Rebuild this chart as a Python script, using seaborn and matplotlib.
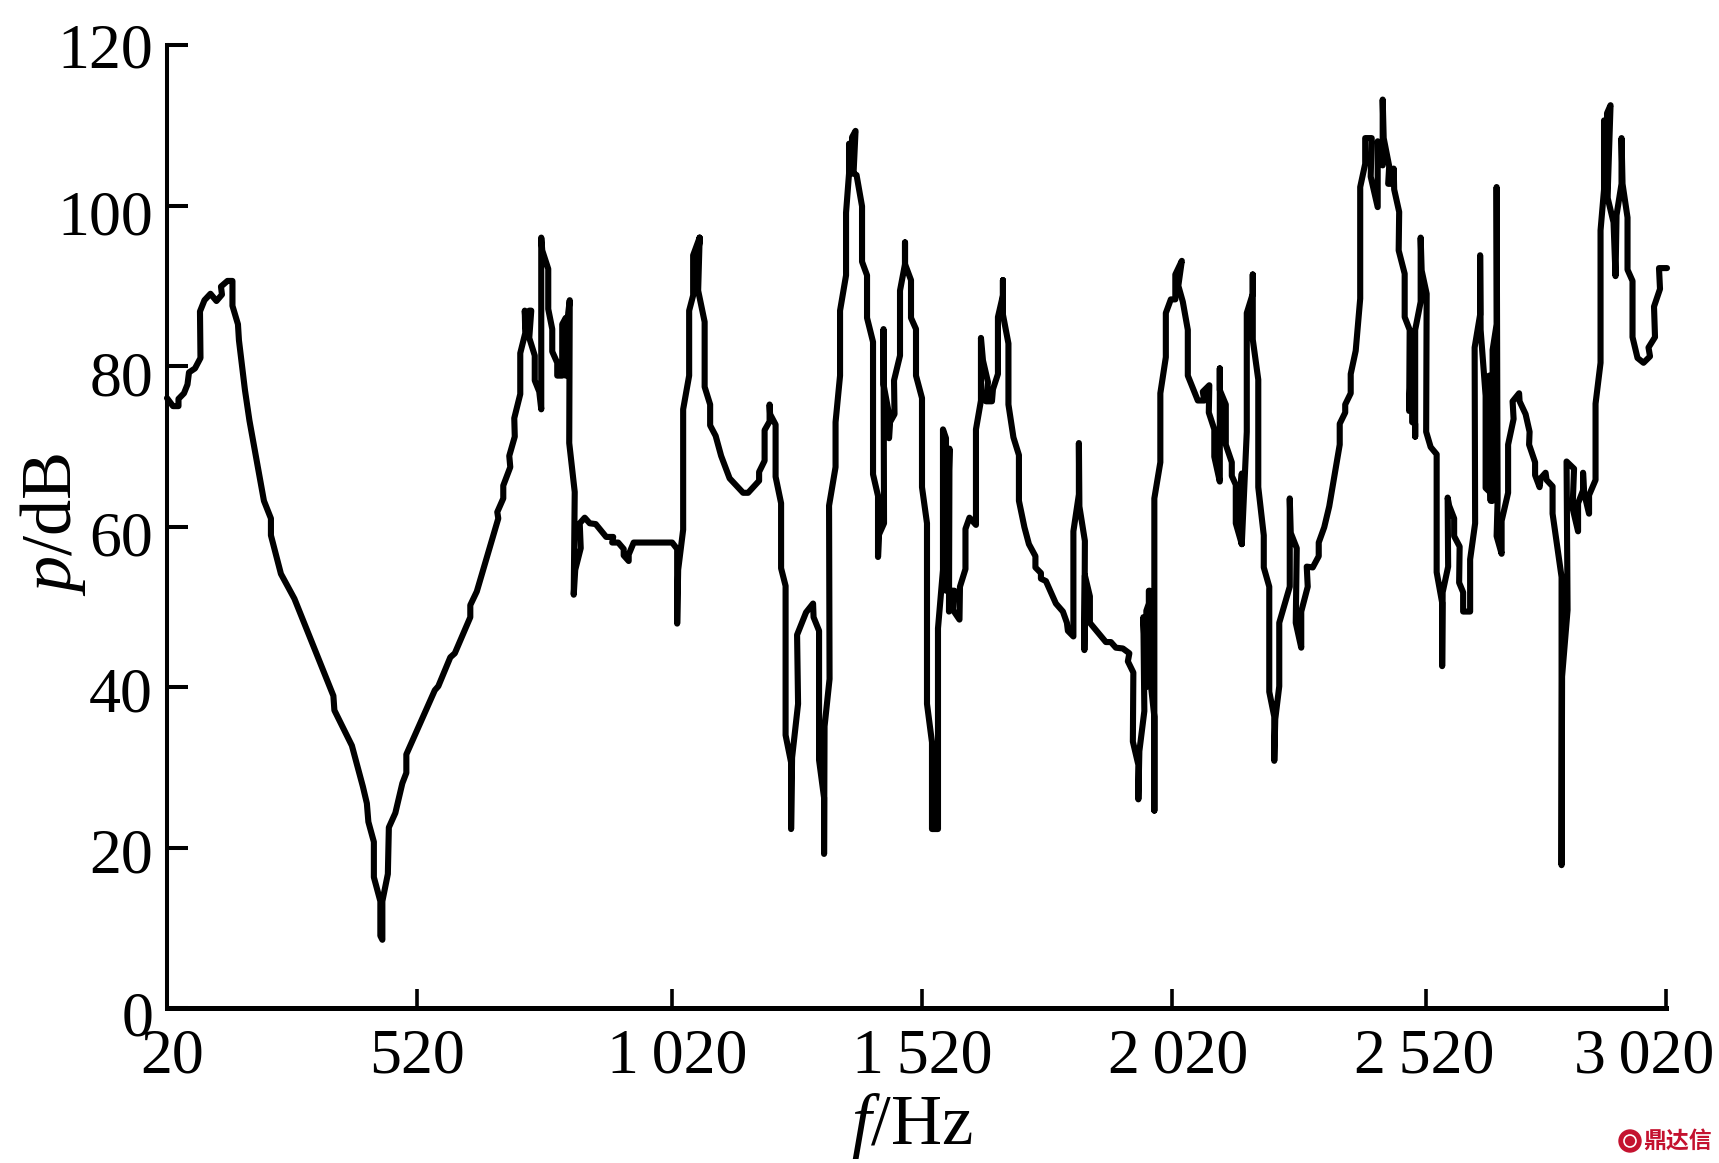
import numpy as np
import pandas as pd
import matplotlib
matplotlib.use("Agg")
import matplotlib.pyplot as plt
from matplotlib.transforms import ScaledTranslation
import seaborn as sns

freq_hz = [
 20,32,43,43,54,61,64,76,87,86,95,107,119,130,128,141,151,151,162,164,176,185,199,214,228,228,248,275,
 353,355,390,412,420,423,434,434,447,447,451,451,462,464,477,491,499,499,556,563,587,596,627,627,640,
 683,681,693,693,707,705,716,715,727,727,737,736,739,745,749,745,756,756,765,769,769,771,783,783,791,791,
 801,801,811,811,818,818,823,826,825,836,834,837,848,846,856,866,878,899,913,911,923,934,934,944,944,954,
 1031,1041,1041,1043,1053,1053,1065,1065,1073,1073,1086,1078,1086,1083,1096,1096,1107,1107,1118,1129,1146,1173,1183,
 1205,1205,1216,1216,1226,1226,1227,1238,1238,1249,1249,1258,1258,1269,1269,1271,1283,1281,1299,1313,1314,1325,
 1325,1335,1335,1336,1346,1345,1358,1358,1367,1367,1379,1379,1385,1385,1391,1391,1398,1394,1400,1411,1411,1421,1421,1433,
 1433,1443,1443,1445,1455,1454,1454,1465,1465,1467,1476,1475,1487,1487,1497,1497,1497,1509,1509,1519,1519,1531,
 1531,1541,1541,1551,1551,1563,1563,1573,1573,1579,1579,1586,1585,1589,1596,1593,1606,1607,1618,1618,1626,1639,
 1639,1649,1649,1653,1663,1659,1671,1673,1683,1683,1693,1693,1693,1704,1704,1714,1725,1725,1736,1745,1758,1758,
 1769,1769,1779,1799,1813,1821,1823,1834,1834,1845,1845,1846,1857,1856,1857,1867,1867,1899,1909,1919,1933,1946,
 1943,1954,1953,1964,1964,1966,1976,1974,1980,1980,1985,1985,1987,1986,1996,1996,1996,2008,2008,2019,2019,2029,2038,2038,
 2051,2044,2053,2063,2063,2083,2096,2093,2106,2105,2116,2116,2127,2127,2127,2139,2139,2151,2151,2159,2159,2171,
 2165,2171,2171,2181,2181,2193,2193,2193,2204,2204,2215,2215,2226,2226,2236,2236,2238,2246,2246,2267,2267,2269,
 2281,2279,2290,2290,2303,2301,2313,2325,2325,2336,2346,2359,2367,2367,2378,2378,2389,2389,2399,2408,2408,2418,
 2418,2431,2429,2443,2443,2453,2453,2455,2466,2464,2475,2475,2476,2486,2485,2497,2497,2507,2506,2512,2512,2518,2518,2518,
 2529,2529,2531,2541,2540,2549,2561,2561,2572,2572,2573,2584,2583,2586,2596,2596,2607,2606,2614,2614,2628,2628,
 2638,2637,2648,2648,2649,2659,2659,2669,2669,2666,2673,2673,2681,2681,2683,2681,2691,2691,2704,2704,2715,2713,2726,2727,
 2739,2747,2746,2758,2758,2767,2769,2779,2781,2793,2793,2811,2811,2812,2823,2821,2836,2833,2844,2844,2854,2854,
 2856,2866,2866,2879,2879,2889,2889,2896,2896,2902,2902,2909,2903,2915,2919,2921,2931,2931,2933,2943,2943,2953,2953,2963,
 2975,2988,2985,2998,2996,3008,3006,3022,
]
level_db = [
 76,75,75,75.9,76.6,77.7,79.2,79.7,81,86.8,88.2,89,88.1,88.9,89.9,90.6,90.6,87.5,85.2,83.2,77,73.2,68.4,63.2,61,58.9,54.1,51,
 38.9,37.1,32.7,27.6,25.5,23.2,20.7,16.3,13.3,9,8.5,13.3,16.7,22.5,24.3,28,29.3,31.6,39.6,40.1,43.7,44.2,48.7,50.2,51.9,
 61,61.8,63.5,65.1,67.4,68.8,71.2,73.5,76.5,81.6,84.1,86.9,84.1,86.9,86.9,83.5,81.3,78.2,76.8,74.6,96,94.4,92.1,87.1,84.6,81.8,
 80.4,78.8,78.8,85.2,86,78.8,86.6,88.2,70.4,64.3,51.5,54.6,57.3,60.4,61.1,60.4,60.3,58.7,58.7,58,58,57.2,56.4,55.7,56.5,58,
 58,57.2,47.9,54.6,59.6,74.6,78.8,86.9,88.8,93.8,96,90,96,89.4,85.5,77.4,75.2,72.6,71.3,68.8,66,64.2,64.2,
 65.7,66.8,68.2,72,73.1,75.2,74,72.7,66.2,62.9,54.8,52.6,34,30.6,22.3,31.2,37.9,46.5,49.3,50.4,48.7,47,
 30.9,26.2,19.2,35.1,41,62.6,67.4,73,78.8,86.9,91.3,99.1,104,107.7,104,108.5,109.3,104,103.8,99.9,93,91.3,86,83,
 66.5,63.8,56.2,59,60.4,84.6,77.7,74,71,73,74,78.2,81.3,89.4,92.7,95.4,92.7,90.7,86,84.6,78.8,76,
 64.9,60.4,37.9,33.1,22.3,22.3,47.3,54.6,72.1,71,52,69.7,49.4,52,52,49.6,48.4,52.5,54.7,59.7,61.1,60.2,
 72.1,75.7,83.5,80.7,78,75.6,75.6,77.1,79,86.1,88.8,90.7,86.4,82.8,75.2,71.1,68.9,63.2,59.9,57.8,56.3,54.9,
 54.2,53.5,53.2,50.4,49.4,48,47,46.3,59.4,64,70.4,62.5,58.2,44.6,53.9,51.3,48,45.6,45.6,44.9,44.8,44.2,
 43.2,41.8,33.2,30.3,26,32,37,48.7,40,49.5,50.4,52,52,42,36.3,24.6,63.5,68,76.6,81.1,86.6,88.3,88.3,91.4,
 93.1,90,88,84.5,78.8,75.7,75.7,76.8,77.6,74.2,72.1,68.7,65.6,79.7,77,75.2,70.2,68,66.3,65.2,60.4,57.8,
 62,66.6,57.8,71.8,86.6,89,91.4,83.3,78.3,64.9,58.9,54.9,52.5,39.4,36.3,30.8,36,40.1,48,52.5,63.5,59.2,
 57.3,48,44.9,49.4,52.5,55,54.9,56.3,58,59.9,62.5,67.3,70.2,72.8,74.2,75.2,76.6,79,81.9,88.4,102.3,105.2,
 108.4,108.4,103.6,99.8,108,105,113.2,108.4,104.9,102.7,102.7,104.6,102,99.2,94.4,91.5,86.1,84.5,74.4,84,73,72.8,71.2,84.5,
 88,96,91.9,89,71.8,69.9,69,54.3,50.5,42.6,51.8,55,63.6,62.6,61,58.8,57.5,53,51.8,49.4,49.4,55.9,
 60.4,82.3,86.4,93.8,84.5,76.3,64.8,64.2,63.2,78.8,63.2,82,85.2,102.3,63.2,58.8,56.6,60.7,64.2,70.2,73.4,75.6,76.6,75.6,
 74,71.8,70.2,68,66.4,64.9,66,66.7,65.8,65,61.6,53.7,17.8,41.3,49.6,68.1,67.2,62.3,59.4,62.9,64.5,66.7,
 64.2,61.6,63.9,65.8,75.3,80.4,96.9,102,110.6,101,111.5,112.5,101,97.9,91.2,98.8,102.7,108.4,102.7,98.5,92,90.6,83.6,81,
 80.4,81.2,82.3,83.6,87.4,89.6,92.2,92.2,
]
print(len(freq_hz), len(level_db))
n = min(len(freq_hz), len(level_db))
freq_hz = freq_hz[:n]
level_db = level_db[:n]

y_ticks = [0, 20, 40, 60, 80, 100, 120]
y_label_shift_px = [-5, -3, -3, -7, -7, -7, 0]
x_tick_values = [20, 520, 1030, 1531, 2031, 2540, 3020]
x_tick_labels = ["20", "520", "1\u2009020", "1\u2009520", "2\u2009020", "2\u2009520", "3\u2009020"]
x_label_shift_px = [5, 0, 6, 0, 6, -2, -22]

sns.set_style("ticks", {"text.color": "black", "xtick.color": "black", "ytick.color": "black",
                        "axes.edgecolor": "black", "axes.labelcolor": "black"})
plt.rcParams["font.family"] = ["Liberation Serif", "DejaVu Serif"]
plt.rcParams["mathtext.fontset"] = "custom"
plt.rcParams["mathtext.rm"] = "Liberation Serif"
plt.rcParams["mathtext.it"] = "Liberation Serif:italic"

W, H = 1719, 1163
fig = plt.figure(figsize=(W / 100, H / 100), dpi=100, facecolor="white")
ax = fig.add_axes([167 / W, 1 - 1008 / H, (1666 - 167) / W, (1008 - 45) / H])

df = pd.DataFrame({"f": freq_hz, "p": level_db})
sns.lineplot(data=df, x="f", y="p", sort=False, estimator=None, errorbar=None,
             color="black", lw=4.4, ax=ax, clip_on=False, solid_joinstyle="round", solid_capstyle="round")

ax.set_xlim(20, 3020)
ax.set_ylim(0, 120)
ax.set_yticks(y_ticks)
ax.set_xticks(x_tick_values)
ax.set_xticklabels(x_tick_labels)
ax.tick_params(axis="y", direction="in", length=15, width=2.9, labelsize=46, pad=10, color="black", labelcolor="black")
ax.tick_params(axis="x", direction="in", length=14, width=2.6, labelsize=46, pad=15, color="black", labelcolor="black")
for spine in ("top", "right"):
    ax.spines[spine].set_visible(False)
ax.spines["left"].set_linewidth(2.9)
ax.spines["bottom"].set_linewidth(3.6)
for lab, dx in zip(ax.get_xticklabels(), x_label_shift_px):
    lab.set_transform(lab.get_transform() + ScaledTranslation(dx / 100, 0, fig.dpi_scale_trans))
for lab, dy in zip(ax.get_yticklabels(), y_label_shift_px):
    lab.set_transform(lab.get_transform() + ScaledTranslation(0, dy / 100, fig.dpi_scale_trans))

ax.set_xlabel("")
ax.set_ylabel("")
fig.text(912 / W, 1 - 1126 / H, r"$\mathit{f}$/Hz", ha="center", va="center", fontsize=51, color="black")
fig.text(53 / W, 1 - 524 / H, r"$\mathit{p}$/dB", ha="center", va="center", rotation=90, fontsize=52, color="black")

fig.text(1643 / W, 1 - 1141 / H, "\u9f0e\u8fbe\u4fe1", color="#c4122f", fontsize=16.5, fontweight="bold",
         family=["Noto Sans CJK SC", "DejaVu Sans"], ha="left", va="center")
logo = plt.Circle((1630, H - 1141), 11, color="#c4122f", transform=None)
ring = plt.Circle((1630, H - 1141), 6, facecolor="none", edgecolor="white", lw=1.2, transform=None)
fig.add_artist(logo)
fig.add_artist(ring)

fig.savefig("out.png", dpi=100, facecolor="white")
